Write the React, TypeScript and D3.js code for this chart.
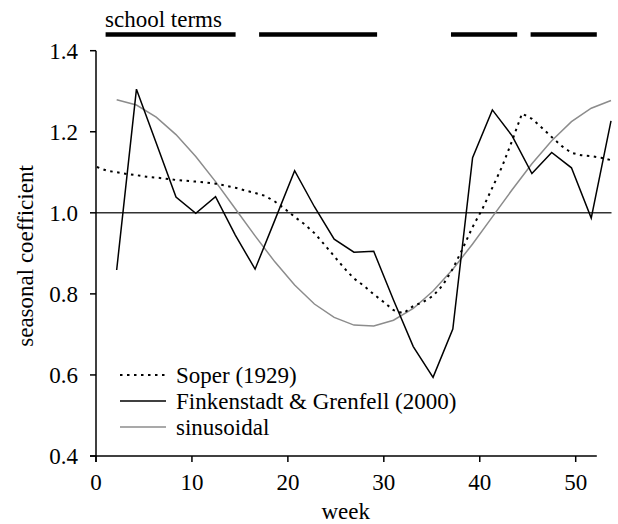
import React from "react";
import * as d3 from "d3";

// ---- data ----
const xTicks = [0, 10, 20, 30, 40, 50];
const yTicks = [0.4, 0.6, 0.8, 1.0, 1.2, 1.4];

// school terms (week ranges, axis units)
const termStart = [1.0, 17.0, 37.0, 45.3];
const termEnd = [14.55, 29.3, 43.9, 52.2];

// Finkenstadt & Grenfell (2000), biweekly, data weeks
const fgWeeks = [2, 4, 6, 8, 10, 12, 14, 16, 18, 20, 22, 24, 26, 28, 30, 32, 34, 36, 38, 40, 42, 44, 46, 48, 50, 52];
const fgValues = [0.859, 1.305, 1.172, 1.039, 0.999, 1.04, 0.945, 0.861, 0.982, 1.104, 1.015, 0.935, 0.903, 0.905, 0.785, 0.67, 0.594, 0.713, 1.136, 1.254, 1.19, 1.097, 1.149, 1.111, 0.987, 1.227];

// sinusoidal, same biweekly positions
const sinValues = [1.279, 1.266, 1.236, 1.193, 1.139, 1.077, 1.01, 0.943, 0.879, 0.822, 0.775, 0.742, 0.723, 0.721, 0.735, 0.764, 0.807, 0.861, 0.923, 0.99, 1.057, 1.121, 1.178, 1.225, 1.258, 1.277];

// Soper (1929), weekly, data weeks 0..52
const soperWeeks = d3.range(0, 53);
const soperValues = [
  1.113, 1.104, 1.1, 1.096, 1.093, 1.089, 1.087, 1.084, 1.081, 1.079,
  1.077, 1.075, 1.072, 1.067, 1.062, 1.055, 1.049, 1.042, 1.028, 1.01,
  0.99, 0.972, 0.95, 0.922, 0.893, 0.864, 0.838, 0.82, 0.799, 0.78,
  0.76, 0.752, 0.77, 0.78, 0.795, 0.822, 0.862, 0.912, 0.965, 1.01,
  1.062, 1.115, 1.178, 1.245, 1.232, 1.21, 1.187, 1.165, 1.148, 1.142,
  1.14, 1.136, 1.13,
];

const legendLabels = ["Soper (1929)", "Finkenstadt & Grenfell (2000)", "sinusoidal"];

export default function App() {
  const W = 618, H = 524;
  const font = '"Liberation Serif", "DejaVu Serif", "Times New Roman", Times, serif';
  const x = d3.scaleLinear().domain([0, 50]).range([96, 575.7]);
  const xData = d3.scaleLinear().domain([0, 52]).range([96.9, 611]);
  const y = d3.scaleLinear().domain([0.4, 1.4]).range([456, 50.7]);

  const line = d3.line<[number, number]>().x((d) => xData(d[0])).y((d) => y(d[1]));
  const fgPath = line(fgWeeks.map((w, i) => [w, fgValues[i]]))!;
  const sinPath = line(fgWeeks.map((w, i) => [w, sinValues[i]]))!;
  const soperPath = line(soperWeeks.map((w, i) => [w, soperValues[i]]))!;

  const y0 = y(0.4);
  const xMax = x(52.2);
  const fs = 23;
  const ts = { fontFamily: font, fontSize: fs, fill: "#000" } as React.CSSProperties;

  const legendY = [375, 401, 427];
  const legendStyles = [
    { stroke: "#000", dash: "2.5,4.5", width: 2 },
    { stroke: "#000", dash: undefined, width: 1.5 },
    { stroke: "#8c8c8c", dash: undefined, width: 1.5 },
  ];

  return (
    <svg width={W} height={H} style={{ position: "absolute", left: 0, top: 0, background: "#fff", fontFamily: font }}>
      <rect width={W} height={H} fill="#fff" />
      {/* school terms */}
      <text x={105} y={27} style={ts}>school terms</text>
      {termStart.map((s, i) => (
        <line key={i} x1={x(s)} x2={x(termEnd[i])} y1={34.5} y2={34.5} stroke="#000" strokeWidth={4.5} />
      ))}

      {/* reference line at 1.0 */}
      <line x1={x(0)} x2={xData(52) + 0.5} y1={y(1)} y2={y(1)} stroke="#333" strokeWidth={1.5} />

      {/* series */}
      <path d={sinPath} fill="none" stroke="#8c8c8c" strokeWidth={1.5} />
      <path d={soperPath} fill="none" stroke="#000" strokeWidth={2} strokeDasharray="2.5,4.5" />
      <path d={fgPath} fill="none" stroke="#000" strokeWidth={1.5} strokeLinejoin="miter" />

      {/* axes */}
      <line x1={x(0)} x2={x(0)} y1={y(1.4)} y2={y0 + 6} stroke="#000" strokeWidth={1.5} />
      <line x1={x(0) - 6} x2={xMax} y1={y0} y2={y0} stroke="#000" strokeWidth={1.5} />
      {yTicks.map((t) => (
        <g key={t}>
          <line x1={x(0) - 6} x2={x(0)} y1={y(t)} y2={y(t)} stroke="#000" strokeWidth={1.5} />
          <text x={78} y={y(t) + 8} textAnchor="end" style={ts}>{t.toFixed(1)}</text>
        </g>
      ))}
      {xTicks.map((t) => (
        <g key={t}>
          <line x1={x(t)} x2={x(t)} y1={y0} y2={y0 + 6} stroke="#000" strokeWidth={1.5} />
          <text x={x(t)} y={490} textAnchor="middle" style={ts}>{t}</text>
        </g>
      ))}
      <text x={345.7} y={519} textAnchor="middle" style={ts}>week</text>
      <text transform="translate(33,256) rotate(-90)" textAnchor="middle" style={ts}>seasonal coefficient</text>

      {/* legend */}
      {legendLabels.map((lab, i) => (
        <g key={lab}>
          <line x1={120} x2={166} y1={legendY[i]} y2={legendY[i]} stroke={legendStyles[i].stroke} strokeWidth={legendStyles[i].width} strokeDasharray={legendStyles[i].dash} />
          <text x={176} y={legendY[i] + 8} style={ts}>{lab}</text>
        </g>
      ))}
    </svg>
  );
}
